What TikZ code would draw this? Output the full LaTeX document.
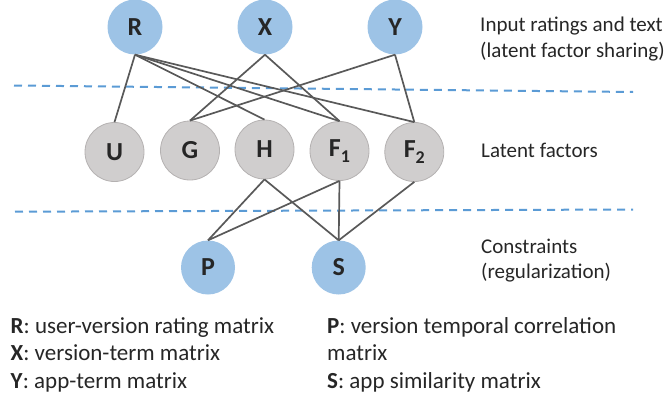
\documentclass[tikz,border=0pt]{standalone}
\usepackage{fontspec}
\setmainfont{Carlito}
\definecolor{blueC}{HTML}{9DC3E6}
\definecolor{grayC}{HTML}{D0CECE}
\definecolor{grayB}{HTML}{B4B1B1}
\definecolor{edgeC}{HTML}{595959}
\definecolor{dashC}{HTML}{5B9BD5}
\definecolor{txt}{HTML}{262626}
\begin{document}
\begin{tikzpicture}[x=1pt,y=-1pt,
  inp/.style={circle, fill=blueC, draw=none, minimum size=55pt, inner sep=0pt,
    font=\fontsize{26}{26}\selectfont\bfseries, text=txt},
  lat/.style={circle, fill=grayC, draw=grayB, line width=0.8pt, minimum size=59pt, inner sep=0pt,
    font=\fontsize{26}{26}\selectfont\bfseries, text=txt},
  con/.style={inp, minimum size=54pt},
  link/.style={draw=edgeC, line width=1.7pt},
  sep/.style={draw=dashC, line width=2pt, dash pattern=on 8pt off 6pt},
  lab/.style={anchor=base west, font=\fontsize{21}{25}\selectfont, text=txt, inner sep=0pt},
  leg/.style={anchor=base west, font=\fontsize{23}{27}\selectfont, text=txt, inner sep=0pt},
]
\newcommand{\subidx}[1]{\raisebox{-0.22em}{\fontsize{18}{18}\selectfont #1}}
\useasboundingbox (0,0) rectangle (668,404);

% separators
\coordinate (d1a) at (14,85.5);
\coordinate (d1b) at (633,92);
\coordinate (d2a) at (15,211.7);
\coordinate (d2b) at (633,209.5);
\draw[sep] (d1a) -- (d1b);
\draw[sep] (d2a) -- (d2b);

% nodes
\node[inp] (R) at (135,27) {R};
\node[inp] (X) at (265,27) {X};
\node[inp] (Y) at (395,27) {Y};

\node[lat] (U) at (114.5,152) {U};
\node[lat] (G) at (190,150.5) {G};
\node[lat] (H) at (264.5,149.5) {H};
\node[lat] (F1) at (339.5,151) {F\subidx{1}};
\node[lat] (F2) at (414.3,152) {F\subidx{2}};

\node[con] (P) at (208,267.5) {P};
\node[con] (S) at (338.7,267.5) {S};

% connectors
\draw[link] (R.south) -- (U.north);
\draw[link] (R.south) -- (H.north);
\draw[link] (R.south) -- (F1.north);
\draw[link] (R.south) -- (F2.north);
\draw[link] (X.south) -- (G.north);
\draw[link] (X.south) -- (F1.north);
\draw[link] (Y.south) -- (G.north);
\draw[link] (Y.south) -- (F2.north);
\draw[link] (H.south) -- (P.north);
\draw[link] (H.south) -- (S.north);
\draw[link] (F1.south) -- (P.north);
\draw[link] (F1.south) -- (S.north);
\draw[link] (F2.south) -- (S.north);

% layer labels
\node[lab] (l1) at (480,32) {Input ratings and text};
\node[lab] (l2) at (480,57) {(latent factor sharing)};
\node[lab] (l3) at (481,157) {Latent factors};
\node[lab] (l4) at (481,253) {Constraints};
\node[lab] (l5) at (481,278) {(regularization)};

% legend
\node[leg] (k1) at (10.5,333) {\textbf{R}: user-version rating matrix};
\node[leg] (k2) at (10.5,360.5) {\textbf{X}: version-term matrix};
\node[leg] (k3) at (10.5,388) {\textbf{Y}: app-term matrix};
\node[leg] (k4) at (327,333) {\textbf{P}: version temporal correlation};
\node[leg] (k5) at (327,360.5) {matrix};
\node[leg] (k6) at (327,388) {\textbf{S}: app similarity matrix};
\end{tikzpicture}
\end{document}
